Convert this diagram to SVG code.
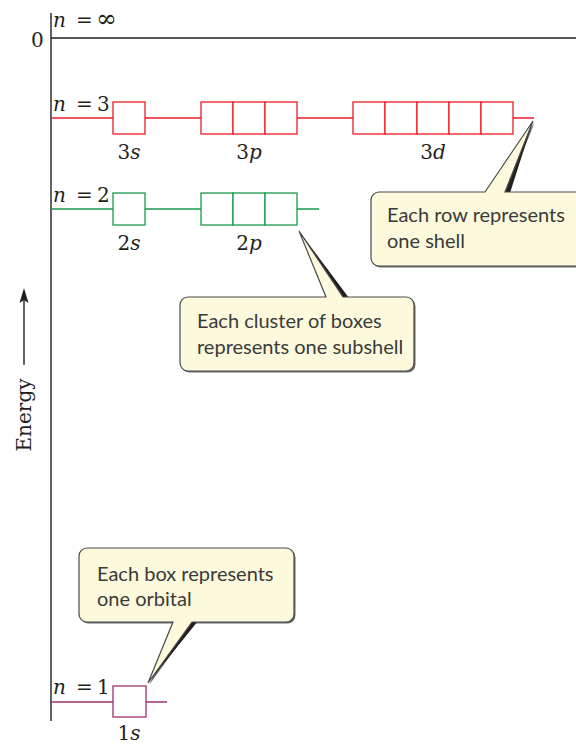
<svg xmlns="http://www.w3.org/2000/svg" width="576" height="745" viewBox="0 0 576 745">
<style>
.ax{stroke:#231f20;stroke-width:1.4;fill:none}
.red{stroke:#ed1c24;stroke-width:1.3;fill:none}
.grn{stroke:#1a9a4a;stroke-width:1.3;fill:none}
.pur{stroke:#a0306f;stroke-width:1.3;fill:none}
.boxr{stroke:#ed1c24;stroke-width:1.3;fill:#fff}
.boxg{stroke:#1a9a4a;stroke-width:1.3;fill:#fff}
.boxp{stroke:#a0306f;stroke-width:1.3;fill:#fff}
.m{font-family:"DejaVu Serif","Liberation Serif",serif;font-size:20px;fill:#231f20}
.i{font-style:italic}
.lab{font-family:"DejaVu Serif","Liberation Serif",serif;font-size:20px;fill:#231f20;text-anchor:middle}
.cf{fill:#fdf9dc;stroke:#4a4a4a;stroke-width:1.2}
.cs{fill:#6a6a6a}
.wedge{fill:#231f20}
.ct{font-family:Lato,"Open Sans",sans-serif;font-size:20px;fill:#3a3a3a}
</style>

<g id="axis">
  <line class="ax" x1="51" y1="13" x2="51" y2="721"/>
  <line class="ax" x1="51" y1="38" x2="576" y2="38"/>
  <text class="m" x="31" y="47">0</text>
  <text class="m" x="53" y="27"><tspan class="i">n</tspan><tspan x="76">=</tspan><tspan x="96" font-size="25">∞</tspan></text>
</g>

<g id="energy">
  <line class="ax" x1="24" y1="365" x2="24" y2="298"/>
  <path d="M24,288 L28.5,303 L24,300 L19.5,303 Z" fill="#231f20"/>
  <text class="m" transform="translate(31,415) rotate(-90)" text-anchor="middle">Energy</text>
</g>

<g id="shell3">
  <line class="red" x1="51" y1="118" x2="534" y2="118"/>
  <text class="m" x="53" y="111"><tspan class="i">n</tspan><tspan x="76">=</tspan><tspan x="97">3</tspan></text>
  <g id="sub3s">
    <rect class="boxr" x="113" y="102" width="32" height="32"/>
    <text class="lab" x="129" y="159">3<tspan class="i">s</tspan></text>
  </g>
  <g id="sub3p">
    <rect class="boxr" x="201" y="102" width="32" height="32"/>
    <rect class="boxr" x="233" y="102" width="32" height="32"/>
    <rect class="boxr" x="265" y="102" width="32" height="32"/>
    <text class="lab" x="249" y="159">3<tspan class="i">p</tspan></text>
  </g>
  <g id="sub3d">
    <rect class="boxr" x="353" y="102" width="32" height="32"/>
    <rect class="boxr" x="385" y="102" width="32" height="32"/>
    <rect class="boxr" x="417" y="102" width="32" height="32"/>
    <rect class="boxr" x="449" y="102" width="32" height="32"/>
    <rect class="boxr" x="481" y="102" width="32" height="32"/>
    <text class="lab" x="433" y="159">3<tspan class="i">d</tspan></text>
  </g>
</g>

<g id="shell2">
  <line class="grn" x1="51" y1="209" x2="319" y2="209"/>
  <text class="m" x="53" y="202"><tspan class="i">n</tspan><tspan x="76">=</tspan><tspan x="97">2</tspan></text>
  <g id="sub2s">
    <rect class="boxg" x="113" y="193" width="32" height="32"/>
    <text class="lab" x="129" y="250">2<tspan class="i">s</tspan></text>
  </g>
  <g id="sub2p">
    <rect class="boxg" x="201" y="193" width="32" height="32"/>
    <rect class="boxg" x="233" y="193" width="32" height="32"/>
    <rect class="boxg" x="265" y="193" width="32" height="32"/>
    <text class="lab" x="249" y="250">2<tspan class="i">p</tspan></text>
  </g>
</g>

<g id="shell1">
  <line class="pur" x1="51" y1="702" x2="167" y2="702"/>
  <text class="m" x="53" y="694"><tspan class="i">n</tspan><tspan x="76">=</tspan><tspan x="97">1</tspan></text>
  <g id="sub1s">
    <rect class="boxp" x="113" y="686" width="33" height="31"/>
    <text class="lab" x="129" y="740">1<tspan class="i">s</tspan></text>
  </g>
</g>

<g id="connectors">
</g>

<g id="callout-shell">
  <path class="cs" transform="translate(1.5,1.5)" d="M379,192 L485,192 L533,121 L505,192 L600,192 L600,266 L379,266 A8,8 0 0 1 371,258 L371,200 A8,8 0 0 1 379,192 Z"/>
  <path class="wedge" d="M504,193 L510,193 L533,121 Z"/>
  <path class="cf" d="M379,192 L485,192 L533,121 L505,192 L600,192 L600,266 L379,266 A8,8 0 0 1 371,258 L371,200 A8,8 0 0 1 379,192 Z"/>
  <text class="ct" x="387" y="222">Each row represents</text>
  <text class="ct" x="387" y="248">one shell</text>
</g>

<g id="callout-subshell">
  <path class="cs" transform="translate(1.5,1.5)" d="M188,297 L326,297 L299,231 L343,297 L406,297 A8,8 0 0 1 414,305 L414,363 A8,8 0 0 1 406,371 L188,371 A8,8 0 0 1 180,363 L180,305 A8,8 0 0 1 188,297 Z"/>
  <path class="wedge" d="M342,298 L349,298 L299,231 Z"/>
  <path class="cf" d="M188,297 L326,297 L299,231 L343,297 L406,297 A8,8 0 0 1 414,305 L414,363 A8,8 0 0 1 406,371 L188,371 A8,8 0 0 1 180,363 L180,305 A8,8 0 0 1 188,297 Z"/>
  <text class="ct" x="197" y="328">Each cluster of boxes</text>
  <text class="ct" x="197" y="354">represents one subshell</text>
</g>

<g id="callout-orbital">
  <path class="cs" transform="translate(1.5,1.5)" d="M87,548 L286,548 A8,8 0 0 1 294,556 L294,614 A8,8 0 0 1 286,622 L192,622 L148,683 L173,622 L87,622 A8,8 0 0 1 79,614 L79,556 A8,8 0 0 1 87,548 Z"/>
  <path class="wedge" d="M191,621 L198,621 L148,683 Z"/>
  <path class="cf" d="M87,548 L286,548 A8,8 0 0 1 294,556 L294,614 A8,8 0 0 1 286,622 L192,622 L148,683 L173,622 L87,622 A8,8 0 0 1 79,614 L79,556 A8,8 0 0 1 87,548 Z"/>
  <text class="ct" x="97" y="581">Each box represents</text>
  <text class="ct" x="97" y="606">one orbital</text>
</g>
</svg>
